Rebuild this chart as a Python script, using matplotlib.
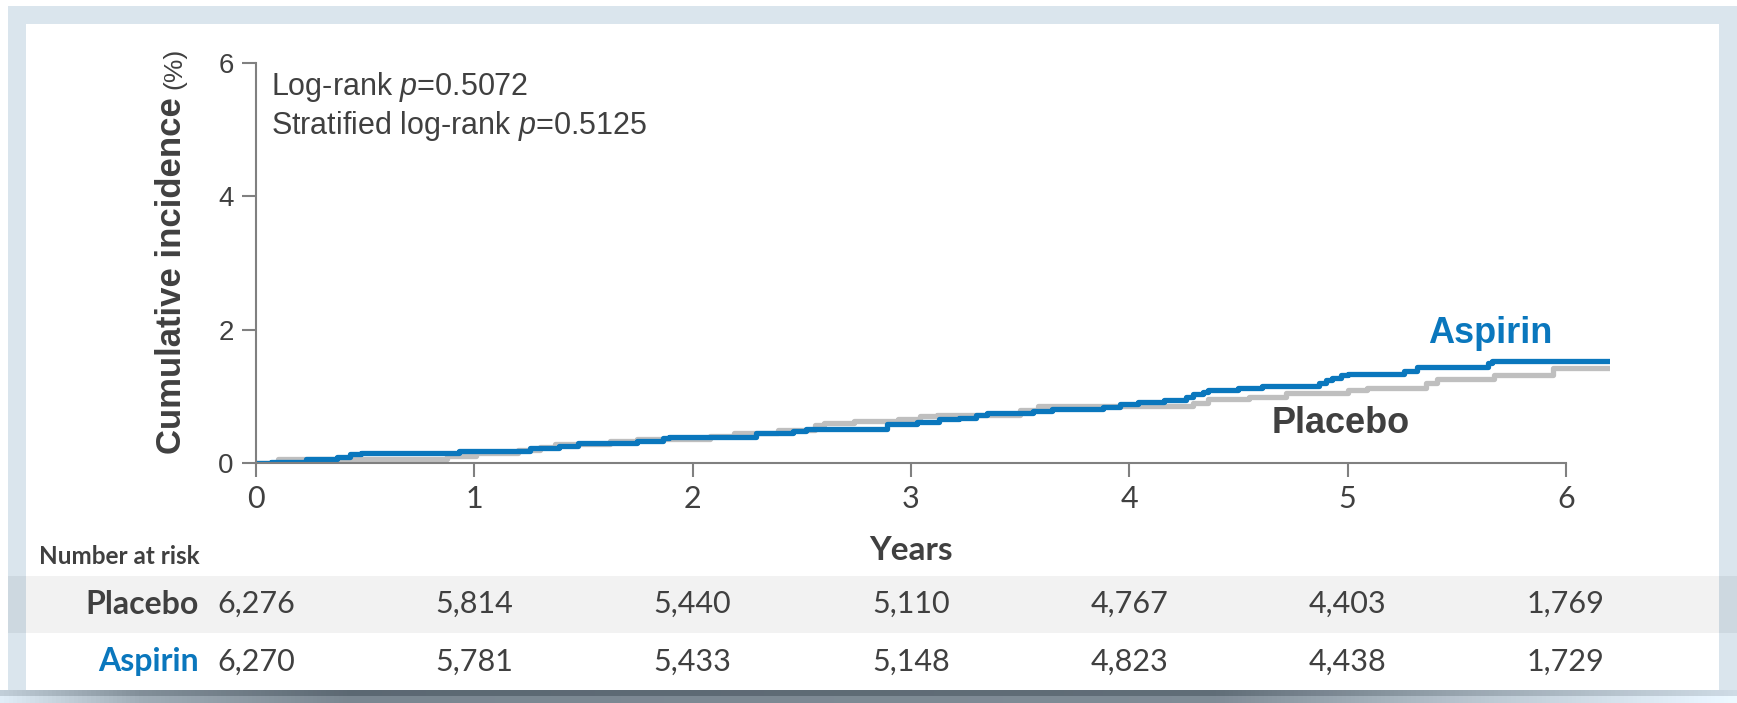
import matplotlib.pyplot as plt
import numpy as np
from matplotlib.patches import Rectangle
from matplotlib.transforms import blended_transform_factory

plt.rcParams['mathtext.fontset'] = 'custom'
plt.rcParams['mathtext.rm'] = 'Liberation Sans'
plt.rcParams['mathtext.it'] = 'Liberation Sans:italic'

# step points of the cumulative incidence curves (years, %)
placebo_t = [0, 0.10, 0.874, 1.01, 1.20, 1.30, 1.37, 1.62, 1.744, 2.08, 2.19, 2.39,
             2.56, 2.60, 2.74, 2.94, 3.04, 3.12, 3.50, 3.58, 4.29, 4.36, 4.55, 4.72,
             5.00, 5.09, 5.36, 5.41, 5.67, 5.94, 6.2]
placebo_y = [0, 0.065, 0.11, 0.15, 0.19, 0.24, 0.29, 0.33, 0.36, 0.40, 0.445, 0.49,
             0.57, 0.595, 0.63, 0.665, 0.70, 0.725, 0.79, 0.86, 0.90, 0.955, 0.99, 1.05,
             1.095, 1.13, 1.195, 1.255, 1.32, 1.42, 1.42]

aspirin_t = [0, 0.067, 0.23, 0.37, 0.43, 0.48, 0.93, 1.255, 1.39, 1.477, 1.744, 1.866,
             1.89, 2.29, 2.46, 2.52, 2.89, 3.03, 3.13, 3.22, 3.30, 3.35, 3.56, 3.645,
             3.88, 3.96, 4.04, 4.16, 4.26, 4.29, 4.34, 4.36, 4.50, 4.61, 4.87, 4.90,
             4.93, 4.97, 5.00, 5.26, 5.32, 5.645, 5.66, 6.2]
aspirin_y = [0, 0.012, 0.055, 0.095, 0.13, 0.155, 0.185, 0.22, 0.255, 0.295, 0.33, 0.37,
             0.395, 0.445, 0.48, 0.515, 0.58, 0.615, 0.655, 0.68, 0.715, 0.755, 0.78, 0.805,
             0.845, 0.885, 0.915, 0.945, 0.995, 1.03, 1.065, 1.095, 1.12, 1.155, 1.195, 1.245,
             1.27, 1.315, 1.335, 1.38, 1.445, 1.505, 1.535, 1.535]

risk_years = [0, 1, 2, 3, 4, 5, 6]
placebo_risk = ['6,276', '5,814', '5,440', '5,110', '4,767', '4,403', '1,769']
aspirin_risk = ['6,270', '5,781', '5,433', '5,148', '4,823', '4,438', '1,729']

pvalues = ['Log-rank $p$=0.5072', 'Stratified log-rank $p$=0.5125']

BLUE = '#0a77bd'
GREY = '#bfbfbf'
DARK = '#404040'
W, H = 1737, 703


def fx(px):
    return px / W


def fy(py):
    return 1 - py / H


def band(fig, x0, y0, x1, y1, color, z=0):
    fig.add_artist(Rectangle((fx(x0), fy(y1)), (x1 - x0) / W, (y1 - y0) / H,
                             transform=fig.transFigure, color=color, lw=0, zorder=z))


fig = plt.figure(figsize=(W / 100, H / 100), dpi=100)
fig.patch.set_facecolor('white')

# frame around the panel
band(fig, 8, 6, W, 24, '#dae5ed')
band(fig, 8, 6, 26, 690, '#dae5ed')
band(fig, 1719, 6, W, 690, '#dae5ed')
band(fig, 26, 576, 1719, 633, '#f2f2f2')
band(fig, 8, 576, 26, 633, '#cdd8e0')
band(fig, 1719, 576, W, 633, '#cdd8e0')

# dark shaded strip at the bottom
grad = fig.add_axes([0, 0, 1, 13 / H])
xs = np.linspace(0, 1, 400)
shade = np.interp(xs, [0, 0.08, 0.2, 0.7, 0.85, 1], [0.80, 0.55, 0.40, 0.42, 0.65, 0.85])
img = np.stack([shade - 0.04, shade + 0.01, shade + 0.05], axis=-1)
img = np.clip(np.repeat(img[None, :, :], 2, axis=0), 0, 1)
img[1] = np.clip(img[1] + 0.12, 0, 1)
grad.imshow(img, aspect='auto', extent=[0, 1, 0, 1])
grad.set_axis_off()

ax = fig.add_axes([fx(256), fy(463), (1609.5 - 256) / W, 400 / H])
ax.step(placebo_t, placebo_y, where='post', color=GREY, lw=3.8, solid_capstyle='butt')
ax.step(aspirin_t, aspirin_y, where='post', color=BLUE, lw=3.8, solid_capstyle='butt')

ax.set_xlim(0, 6.2)
ax.set_ylim(0, 6)
ax.set_xticks(risk_years)
ax.set_yticks([0, 2, 4, 6])
for s in ['top', 'right']:
    ax.spines[s].set_visible(False)
for s in ['left', 'bottom']:
    ax.spines[s].set_color('#808080')
    ax.spines[s].set_linewidth(1.5)
ax.spines['bottom'].set_bounds(0, 6)
ax.tick_params(colors='#808080', width=1.5, length=10, labelcolor=DARK)
ax.tick_params(axis='x', pad=6, labelsize=22)
ax.tick_params(axis='y', pad=6, labelsize=20)
for lab in ax.get_xticklabels():
    lab.set_family('Lato')
for lab in ax.get_yticklabels():
    lab.set_family('Liberation Sans')

# p-values
for i, txt in enumerate(pvalues):
    fig.text(fx(271), fy(95 + 39 * i), txt, fontsize=22, color=DARK,
             family='Liberation Sans', ha='left', va='baseline')

# curve labels
ax.text(5.37, 1.8, 'Aspirin', fontsize=26, color=BLUE, fontweight='bold',
        family='Liberation Sans', ha='left', va='baseline')
ax.text(4.65, 0.45, 'Placebo', fontsize=26, color=DARK, fontweight='bold',
        family='Liberation Sans', ha='left', va='baseline')

# y axis label, bold part then the unit
ylab = fig.text(fx(181), fy(454), 'Cumulative incidence', rotation=90, rotation_mode='anchor',
                fontsize=25, fontweight='bold', color=DARK, family='Liberation Sans',
                ha='left', va='baseline')
fig.canvas.draw()
bb = ylab.get_window_extent()
fig.text(fx(181), (bb.y1 + 8) / H, '(%)', rotation=90, rotation_mode='anchor',
         fontsize=19, color=DARK, family='Liberation Sans', ha='left', va='baseline')

# number at risk table
xfig = blended_transform_factory(ax.transData, fig.transFigure)
fig.text(fx(911), fy(551), 'Years', fontsize=24, fontweight='bold', color=DARK,
         family='Lato', ha='center', va='center')
fig.text(fx(39), fy(557), 'Number at risk', fontsize=17.5, fontweight='bold', color=DARK,
         family='Lato', ha='left', va='center')
fig.text(fx(199), fy(604), 'Placebo', fontsize=23, fontweight='bold', color=DARK,
         family='Lato', ha='right', va='center')
fig.text(fx(199), fy(662), 'Aspirin', fontsize=23, fontweight='bold', color=BLUE,
         family='Lato', ha='right', va='center')
for yr, p, a in zip(risk_years, placebo_risk, aspirin_risk):
    fig.text(yr, fy(604), p, transform=xfig, fontsize=22, color=DARK, family='Lato',
             ha='center', va='center')
    fig.text(yr, fy(662), a, transform=xfig, fontsize=22, color=DARK, family='Lato',
             ha='center', va='center')

fig.savefig('out.png', dpi=100, facecolor='white')
